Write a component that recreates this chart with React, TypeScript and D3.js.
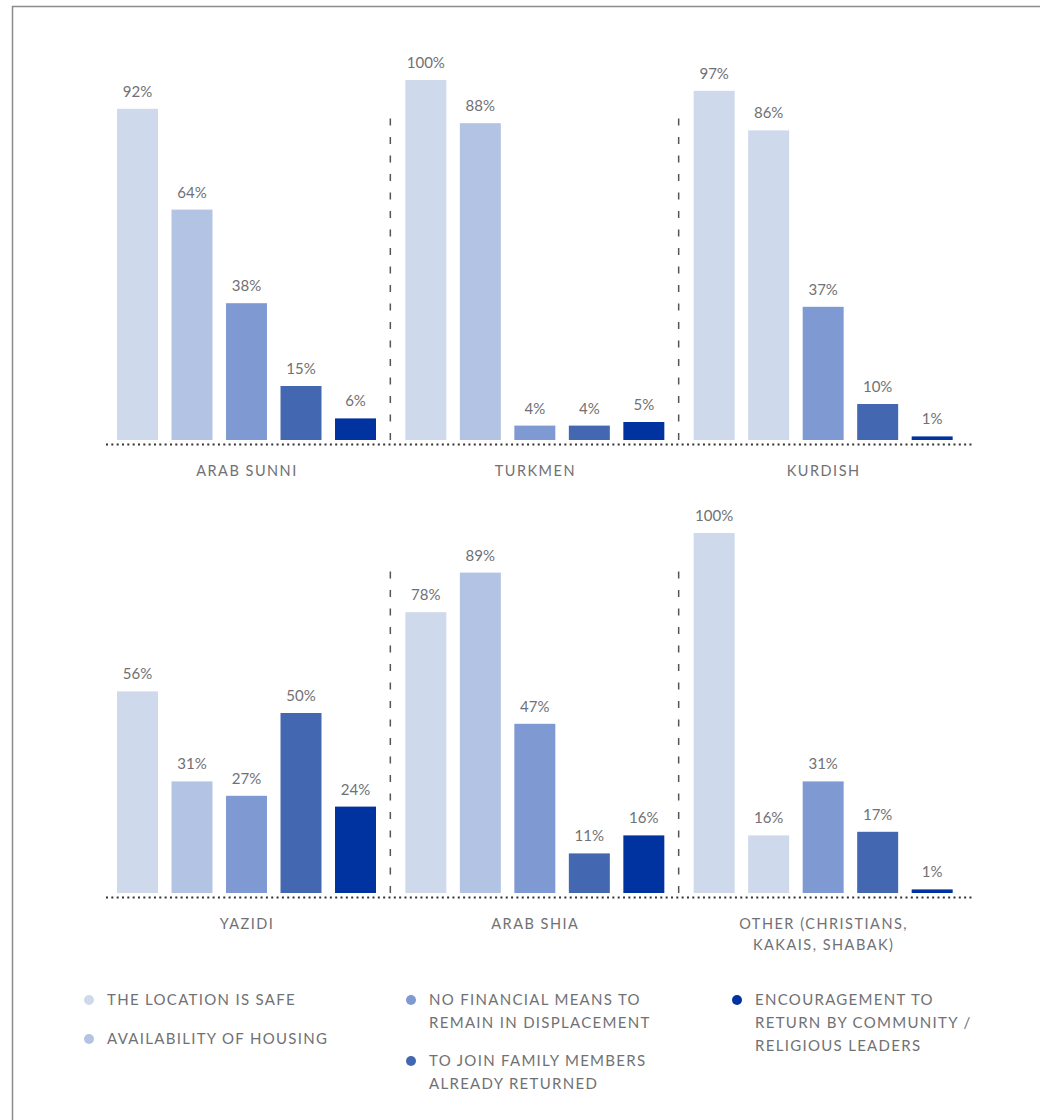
import React from 'react'
import * as d3 from 'd3'

const reasons = [
  'THE LOCATION IS SAFE',
  'AVAILABILITY OF HOUSING',
  'NO FINANCIAL MEANS TO REMAIN IN DISPLACEMENT',
  'TO JOIN FAMILY MEMBERS ALREADY RETURNED',
  'ENCOURAGEMENT TO RETURN BY COMMUNITY / RELIGIOUS LEADERS',
]

const topGroups = ['ARAB SUNNI', 'TURKMEN', 'KURDISH']
const bottomGroups = ['YAZIDI', 'ARAB SHIA', 'OTHER']

const arabSunni = [92, 64, 38, 15, 6]
const turkmen = [100, 88, 4, 4, 5]
const kurdish = [97, 86, 37, 10, 1]
const yazidi = [56, 31, 27, 50, 24]
const arabShia = [78, 89, 47, 11, 16]
const other = [100, 16, 31, 17, 1]

// label lines under each group
const groupLabels: Record<string, string[]> = {
  'ARAB SUNNI': ['ARAB SUNNI'],
  TURKMEN: ['TURKMEN'],
  KURDISH: ['KURDISH'],
  YAZIDI: ['YAZIDI'],
  'ARAB SHIA': ['ARAB SHIA'],
  OTHER: ['OTHER (CHRISTIANS,', 'KAKAIS, SHABAK)'],
}

// legend text lines as printed
const legendLines = [
  ['THE LOCATION IS SAFE'],
  ['AVAILABILITY OF HOUSING'],
  ['NO FINANCIAL MEANS TO', 'REMAIN IN DISPLACEMENT'],
  ['TO JOIN FAMILY MEMBERS', 'ALREADY RETURNED'],
  ['ENCOURAGEMENT TO', 'RETURN BY COMMUNITY /', 'RELIGIOUS LEADERS'],
]

// the source paints these second bars in the first shade
const lightSecondBar = ['KURDISH', 'OTHER']

const values: Record<string, number[]> = {
  'ARAB SUNNI': arabSunni,
  TURKMEN: turkmen,
  KURDISH: kurdish,
  YAZIDI: yazidi,
  'ARAB SHIA': arabShia,
  OTHER: other,
}

const colors = ['#cfd9ec', '#b3c3e3', '#7f9ad2', '#4467b2', '#0033a0']
const textColor = '#707174'
const font = 'Lato, "Open Sans", sans-serif'

const W = 1040
const H = 1120

const color = d3.scaleOrdinal<string, string>().domain(reasons).range(colors)
const y = d3.scaleLinear().domain([0, 100]).range([0, 360])
const inner = d3.scaleBand<string>().domain(reasons).range([10, 269]).paddingInner(0.248)

const Row: React.FC<{ groups: string[]; base: number }> = ({ groups, base }) => {
  const panel = d3.scaleBand<string>().domain(groups).range([107, 972])
  return (
    <g>
      <line x1={106} x2={972} y1={base + 4.5} y2={base + 4.5}
        stroke="#333" strokeWidth={2} strokeDasharray="2,3.33" />
      {groups.map((g, gi) => {
        const x0 = panel(g)!
        return (
          <g key={g}>
            {gi > 0 && (
              <line x1={x0 - 5} x2={x0 - 5} y1={base} y2={base - 324}
                stroke="#555" strokeWidth={1.5} strokeDasharray="7,11.5" />
            )}
            {values[g].map((v, i) => {
              const r = reasons[i]
              const fill = i === 1 && lightSecondBar.includes(g) ? color(reasons[0]) : color(r)
              const bx = x0 + inner(r)!
              return (
                <g key={r}>
                  <rect x={bx} y={base - y(v)} width={inner.bandwidth()} height={y(v)} fill={fill} />
                  <text x={bx + inner.bandwidth() / 2} y={base - y(v) - 12}
                    textAnchor="middle" fontSize={15} fill={textColor}>{v}%</text>
                </g>
              )
            })}
            {groupLabels[g].map((l, li) => (
              <text key={l} x={x0 + 140} y={base + 36 + li * 21} textAnchor="middle"
                fontSize={14.5} letterSpacing={1.5} fill={textColor}>{l}</text>
            ))}
          </g>
        )
      })}
    </g>
  )
}

// legend slots: column x and first-line y for each reason
const legendSlots = [
  [89, 1000], [89, 1039], [411, 1000], [411, 1061], [737, 1000],
]

export default function App() {
  return (
    <svg width={W} height={H} style={{ position: 'absolute', left: 0, top: 0, fontFamily: font }}>
      <rect width={W} height={H} fill="#fff" />
      <path d={`M12.5,${H} V6.5 H${W}`} fill="none" stroke="#8a8b8d" strokeWidth={1.5} />
      <Row groups={topGroups} base={440} />
      <Row groups={bottomGroups} base={893} />
      {reasons.map((r, i) => {
        const [lx, ly] = legendSlots[i]
        return (
          <g key={r}>
            <circle cx={lx} cy={ly} r={5} fill={color(r)} />
            {legendLines[i].map((l, li) => (
              <text key={l} x={lx + 18} y={ly + 5 + li * 23} fontSize={15}
                letterSpacing={1.3} fill={textColor}>{l}</text>
            ))}
          </g>
        )
      })}
    </svg>
  )
}
